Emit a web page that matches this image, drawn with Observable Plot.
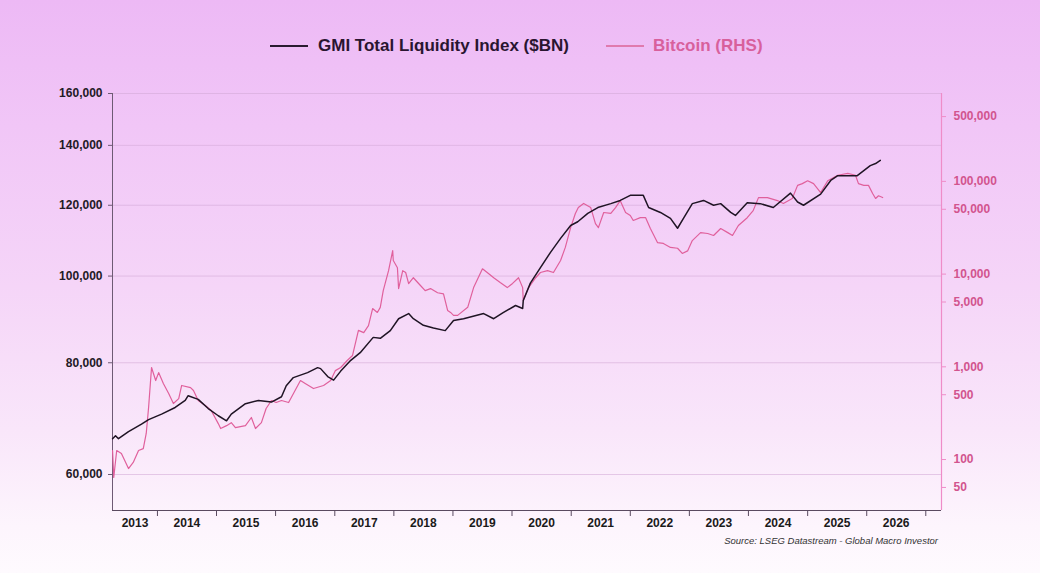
<!DOCTYPE html>
<html><head><meta charset="utf-8">
<script src="https://cdn.jsdelivr.net/npm/d3@7"></script>
<script src="https://cdn.jsdelivr.net/npm/@observablehq/plot@0.6"></script>
<style>
html,body{margin:0;padding:0;}
body{width:1040px;height:573px;overflow:hidden;position:relative;
 background:linear-gradient(180deg,#edb9f5 0%,#f1c6f7 22%,#f5d5f8 50%,#f9e6fa 75%,#fdf5fd 92%,#fefafe 100%);
 font-family:"Liberation Sans",Arial,sans-serif;}
.sw{position:absolute;height:2px;}
.lt{position:absolute;font-size:17px;font-weight:bold;line-height:20px;white-space:nowrap;}
#chart{position:absolute;left:0;top:70px;}
#src{position:absolute;right:102px;top:535px;font-size:9.5px;font-style:italic;color:#333;white-space:nowrap;}
</style></head>
<body>
<div class="sw" style="left:270px;top:45px;width:38px;background:#2a1a30"></div>
<div class="lt" style="left:318px;top:36px;color:#2a1530">GMI Total Liquidity Index ($BN)</div>
<div class="sw" style="left:606px;top:45px;width:38px;background:#e07aae"></div>
<div class="lt" style="left:653px;top:36px;color:#d8609c">Bitcoin (RHS)</div>
<div id="chart"></div>
<div id="src">Source: LSEG Datastream - Global Macro Investor</div>
<script>
// GMI Total Liquidity Index ($BN), decimal years
const liqYears = [2013.24,2013.29,2013.34,2013.51,2013.73,2013.85,2014.07,2014.30,2014.47,2014.52,2014.69,2014.86,2015.03,2015.17,2015.25,2015.49,2015.71,2015.93,2016.10,2016.18,2016.30,2016.54,2016.71,2016.76,2016.88,2016.98,2017.10,2017.27,2017.43,2017.65,2017.77,2017.94,2018.08,2018.25,2018.33,2018.50,2018.67,2018.87,2019.01,2019.18,2019.52,2019.69,2019.85,2020.06,2020.18,2020.19,2020.31,2020.48,2020.65,2020.82,2020.99,2021.11,2021.28,2021.45,2021.67,2021.83,2022.00,2022.22,2022.31,2022.51,2022.68,2022.80,2022.90,2023.05,2023.24,2023.41,2023.53,2023.70,2023.78,2023.98,2024.20,2024.42,2024.71,2024.83,2024.93,2025.22,2025.39,2025.51,2025.84,2026.06,2026.15,2026.23];
const liqValues = [65800,66300,65800,67000,68300,69100,70100,71300,72600,73500,72800,71100,69800,68900,70100,72000,72600,72300,73300,75400,77000,78000,79000,78800,77200,76500,78300,80500,82100,85400,85200,86900,89600,90800,89600,88100,87500,86900,89200,89600,90800,89600,91000,92700,92000,93900,98200,102200,106300,110200,113900,115000,117500,119300,120500,121500,123100,123100,119300,117800,116000,113100,116000,120500,121500,120000,120500,117800,116900,120800,120500,119300,123800,121000,120000,123500,127900,129500,129500,132900,133600,134700];
// Bitcoin (RHS), USD
const btcYears = [2013.24,2013.26,2013.31,2013.39,2013.51,2013.59,2013.68,2013.76,2013.81,2013.85,2013.90,2013.97,2014.02,2014.10,2014.19,2014.27,2014.36,2014.41,2014.56,2014.61,2014.69,2014.81,2014.91,2015.03,2015.07,2015.17,2015.25,2015.32,2015.49,2015.59,2015.66,2015.76,2015.84,2015.93,2016.01,2016.10,2016.22,2016.42,2016.50,2016.64,2016.81,2016.93,2017.01,2017.10,2017.21,2017.30,2017.40,2017.49,2017.57,2017.64,2017.72,2017.77,2017.82,2017.91,2017.98,2017.99,2018.06,2018.08,2018.15,2018.20,2018.25,2018.33,2018.45,2018.53,2018.62,2018.74,2018.84,2018.91,2018.96,2019.01,2019.08,2019.25,2019.35,2019.50,2019.58,2019.69,2019.80,2019.92,2020.01,2020.11,2020.18,2020.19,2020.28,2020.40,2020.48,2020.60,2020.70,2020.82,2020.90,2020.99,2021.07,2021.12,2021.21,2021.33,2021.41,2021.46,2021.55,2021.67,2021.75,2021.83,2021.92,2022.00,2022.05,2022.17,2022.26,2022.34,2022.46,2022.56,2022.68,2022.80,2022.88,2022.97,2023.05,2023.19,2023.31,2023.41,2023.53,2023.65,2023.73,2023.83,2023.98,2024.08,2024.17,2024.32,2024.49,2024.59,2024.74,2024.83,2024.91,2025.00,2025.10,2025.22,2025.34,2025.51,2025.68,2025.81,2025.86,2025.95,2026.03,2026.10,2026.15,2026.20,2026.27];
const btcValues = [125,64,125,116,80,93,125,131,191,364,983,711,866,660,515,402,454,629,597,555,433,383,338,244,216,232,250,221,232,284,216,250,355,433,412,433,412,711,660,583,629,711,910,983,1170,1325,2470,2340,2780,4250,3860,4380,6640,10900,17900,14000,11700,6980,10900,10400,7900,9140,7530,6640,6980,6290,6120,4060,3860,3590,3590,4380,7150,11400,10400,9140,8100,7150,7930,9140,7150,5190,7150,9140,10400,10900,10400,14000,19400,31700,45100,52200,57800,52200,35000,31700,46200,45100,52200,62000,46200,42800,37900,40600,40600,31000,21900,21400,19400,19000,16700,17800,23000,28000,27400,26100,31000,28000,26100,33400,40600,48400,66800,66800,62100,57800,65400,90600,94600,101500,94600,75700,101500,116400,122000,116400,94600,90600,90600,74000,65400,70000,67000];
const leftTicks = [60000,80000,100000,120000,140000,160000];
const rightTicks = [50,100,500,1000,5000,10000,50000,100000,500000];
const yearLabels = ["2013","2014","2015","2016","2017","2018","2019","2020","2021","2022","2023","2024","2025","2026"];

const dy = y => { const yr = Math.floor(y); const s = Date.UTC(yr,0,1), e = Date.UTC(yr+1,0,1); return new Date(s + (y-yr)*(e-s)); };
const L0 = 54690, L1 = 160000, R0 = 28.2, R1 = 887000;
const toLeft = b => Math.exp(Math.log(L0) + (Math.log(b)-Math.log(R0))/(Math.log(R1)-Math.log(R0))*(Math.log(L1)-Math.log(L0)));
const fromLeft = v => Math.exp(Math.log(R0) + (Math.log(v)-Math.log(L0))/(Math.log(L1)-Math.log(L0))*(Math.log(R1)-Math.log(R0)));

const liq = liqYears.map((y,i) => ({date: dy(y), v: liqValues[i]}));
const btc = btcYears.map((y,i) => ({date: dy(y), v: toLeft(btcValues[i])}));
const x0 = dy(2013.239), x1 = dy(2027.266);
const yearStarts = d3.range(2014, 2028).map(y => new Date(Date.UTC(y,0,1)));
const labelPos = yearLabels.map(s => +s === 2013 ? new Date((+x0 + Date.UTC(2014,0,1))/2) : new Date(Date.UTC(+s,6,2)));
const fmt = d3.format(",");
const nearestRight = v => { const b = fromLeft(v); return rightTicks.reduce((a,c) => Math.abs(Math.log(c/b)) < Math.abs(Math.log(a/b)) ? c : a); };

const chart = Plot.plot({
  width: 1040, height: 460,
  marginLeft: 112, marginRight: 99, marginTop: 23, marginBottom: 20,
  style: {background: "transparent", overflow: "visible", fontFamily: "'Liberation Sans', Arial, sans-serif"},
  x: {type: "utc", domain: [x0, x1], axis: null},
  y: {type: "log", domain: [L0, L1], axis: null},
  marks: [
    Plot.ruleY(leftTicks, {stroke: "#d2a8d6", strokeOpacity: 0.55}),
    Plot.ruleX([x0], {stroke: "#6e5a74", strokeWidth: 1}),
    Plot.ruleX([x1], {stroke: "#ef8cc8", strokeWidth: 1.2}),
    Plot.ruleY([L0], {stroke: "#5a4a60", strokeWidth: 1}),
    Plot.axisY(leftTicks, {anchor: "left", label: null, tickSize: 4, tickPadding: 6, tickFormat: fmt, fontSize: 12, fontWeight: "bold", fill: "#231a26", stroke: "#6e5a74"}),
    Plot.axisY(rightTicks.map(toLeft), {anchor: "right", label: null, tickSize: 4, tickPadding: 8, tickFormat: v => fmt(nearestRight(v)), fontSize: 12, fontWeight: "bold", fill: "#d2548e", stroke: "#ef8cc8"}),
    Plot.axisX(yearStarts, {anchor: "bottom", label: null, tickSize: 6, tickFormat: () => "", stroke: "#5a4a60"}),
    Plot.axisX(labelPos, {anchor: "bottom", label: null, tickSize: 0, tickPadding: 8, tickFormat: d => String(d.getUTCFullYear()), fontSize: 12, fontWeight: "bold", fill: "#1a1a1a"}),
    Plot.line(btc, {x: "date", y: "v", stroke: "#e0609c", strokeWidth: 1.2}),
    Plot.line(liq, {x: "date", y: "v", stroke: "#1f1424", strokeWidth: 1.5})
  ]
});
document.getElementById("chart").appendChild(chart);
</script>
</body></html>
